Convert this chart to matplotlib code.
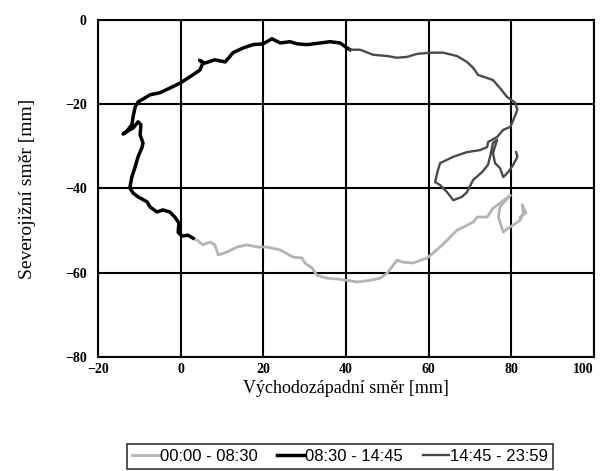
import matplotlib.pyplot as plt

# 00:00 - 08:30 (light gray)
x_night = [82.2, 83.6, 82.7, 82.9, 82.2, 80.5, 79.3, 78.1, 76.9, 77.3, 79.8, 77.3, 75.6,
           74.2, 71.8, 70.8, 68.4, 66.9, 64.5, 62.8, 59.7, 56.3, 53.8, 52.4, 50.0, 48.3,
           45.9, 42.7, 40.3, 37.9, 35.4, 33.0, 31.8, 30.1, 29.4, 27.2, 24.1, 20.9, 18.5,
           16.1, 13.7, 11.2, 9.1, 8.3, 7.1, 5.4, 4.0, 3.0]
y_night = [-46.8, -45.8, -43.9, -45.8, -47.5, -48.7, -49.4, -50.4, -46.8, -44.4, -41.6, -43.5, -44.7,
           -46.8, -46.8, -48.0, -49.2, -49.9, -52.3, -53.9, -56.5, -57.7, -57.5, -57.0, -60.1, -61.3,
           -61.8, -62.2, -61.8, -61.5, -61.3, -60.6, -58.9, -57.7, -56.5, -56.3, -54.6, -53.9, -53.9,
           -53.4, -53.9, -55.1, -55.8, -53.4, -52.7, -53.4, -52.3, -51.8]

# 08:30 - 14:45 (black)
x_day = [3.0, 1.8, 0.3, -0.6, -0.4, -1.4, -2.6, -4.3, -5.7, -7.4, -8.1, -10.3, -11.5, -12.3,
         -11.8, -11.0, -10.3, -9.3, -9.1, -9.8, -9.6, -10.3, -11.5, -12.3, -13.9, -13.0, -11.8,
         -11.5, -11.0, -10.3, -7.4, -5.0, -2.6, -0.1, 2.3, 4.7, 5.4, 4.6, 5.8, 8.3, 10.8, 12.7,
         15.1, 17.5, 20.0, 22.1, 24.1, 26.5, 28.2, 30.6, 33.8, 36.2, 38.6, 40.3, 41.0]
y_day = [-51.8, -51.1, -51.3, -50.4, -48.2, -46.8, -45.6, -45.1, -45.6, -44.4, -43.2, -42.0, -41.1, -39.9,
         -37.3, -34.9, -32.5, -30.2, -29.2, -27.3, -24.9, -24.2, -25.7, -26.1, -27.1, -26.4, -24.9,
         -23.0, -20.7, -19.5, -17.8, -17.3, -16.2, -15.0, -13.5, -11.9, -10.2, -9.6, -10.3, -9.5, -10.0, -7.8,
         -6.7, -5.9, -5.7, -4.5, -5.5, -5.2, -5.7, -5.9, -5.5, -5.2, -5.5, -6.7, -7.1]

# 14:45 - 23:59 (dark gray)
x_eve = [41.0, 43.4, 46.6, 50.0, 52.4, 54.8, 57.2, 60.4, 63.5, 66.9, 69.3, 70.8, 72.0, 74.2,
         75.6, 77.3, 79.0, 81.0, 81.5, 80.5, 79.8, 78.1, 76.6, 74.4, 74.2, 72.5, 69.3, 66.0,
         62.8, 62.1, 61.6, 62.8, 64.5, 66.0, 68.1, 69.3, 70.8, 73.0, 74.4, 74.9, 75.6, 76.6,
         75.6, 76.1, 77.3, 78.1, 79.3, 80.5, 81.5, 81.2]
y_eve = [-7.1, -7.1, -8.3, -8.6, -9.0, -8.8, -8.1, -7.8, -7.8, -8.6, -10.0, -11.4, -13.1, -13.8,
         -14.3, -16.2, -18.3, -19.7, -21.4, -23.8, -25.4, -26.1, -27.8, -29.0, -30.2, -30.9, -31.4, -32.5,
         -34.0, -36.3, -38.5, -39.2, -40.9, -42.8, -42.0, -40.9, -38.0, -36.1, -34.4, -32.5, -29.2, -28.5,
         -31.6, -34.0, -35.2, -37.3, -36.1, -34.4, -32.5, -31.4]

labels = ['00:00 - 08:30', '08:30 - 14:45', '14:45 - 23:59']

fig = plt.figure(figsize=(6.01, 4.71), dpi=100)
ax = fig.add_axes([0.163, 0.242, 0.825, 0.716])

ax.plot(x_night, y_night, color='#b4b4b4', lw=2.0, label=labels[0])
ax.plot(x_day, y_day, color='black', lw=2.5, label=labels[1])
ax.plot(x_eve, y_eve, color='#4a4a4a', lw=1.7, label=labels[2])

ax.set_xlim(-20, 100)
ax.set_ylim(-80, 0)
ax.set_xticks(range(-20, 101, 20))
ax.set_yticks(range(-80, 1, 20))
ax.grid(True, color='black', lw=1.5)
ax.set_axisbelow(True)
for s in ax.spines.values():
    s.set_linewidth(1.5)
ax.tick_params(axis='x', length=0, pad=4)
ax.tick_params(axis='y', length=0, pad=8)
for t in ax.get_xticklabels() + ax.get_yticklabels():
    t.set_family('Liberation Serif')
    t.set_fontweight('bold')
    t.set_fontsize(10)
ax.get_xticklabels()[-1].set_horizontalalignment('right')

ax.set_xlabel('Východozápadní směr [mm]', family='Liberation Serif', fontsize=13, labelpad=3)
ax.set_ylabel('Severojižní směr [mm]', family='Liberation Serif', fontsize=14, labelpad=21)

leg = fig.legend(loc='upper center', bbox_to_anchor=(340 / 601, 0.058), bbox_transform=fig.transFigure,
                 ncol=3, frameon=True, fancybox=False, edgecolor='black', handlelength=1.6,
                 handletextpad=0.05, columnspacing=1.2, borderpad=0.3, borderaxespad=0,
                 prop={'family': 'Liberation Sans', 'size': 12})
leg.get_frame().set_linewidth(1.2)

fig.savefig('out.png', dpi=100)
